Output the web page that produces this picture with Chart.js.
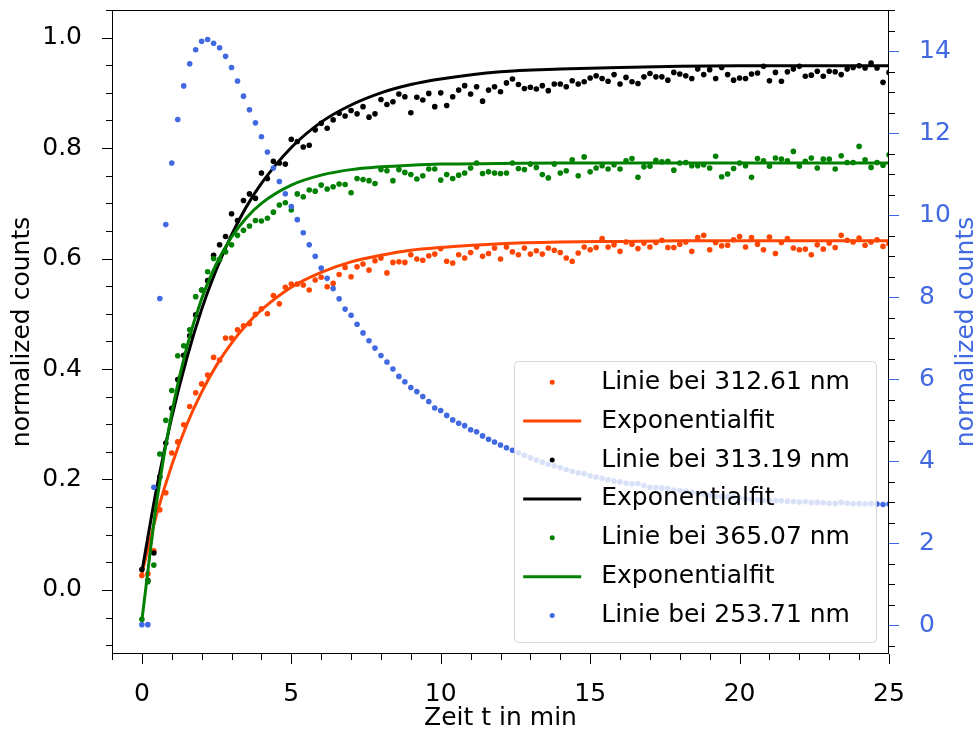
<!DOCTYPE html>
<html>
<head>
<meta charset="utf-8">
<title>Linienintensitäten</title>
<script src="https://cdn.jsdelivr.net/npm/chart.js@4.4.0/dist/chart.umd.min.js"></script>
<style>
  html, body { margin: 0; padding: 0; background: #fff; }
  #chart { display: block; }
</style>
</head>
<body>
<canvas id="chart" width="979" height="736"></canvas>
<script>
// Messzeitpunkte in min (alle 0.2 min)
const timeMin = [
  0, 0.2, 0.4, 0.6, 0.8, 1, 1.2, 1.4, 1.6, 1.8,
  2, 2.2, 2.4, 2.6, 2.8, 3, 3.2, 3.4, 3.6, 3.8,
  4, 4.2, 4.4, 4.6, 4.8, 5, 5.2, 5.4, 5.6, 5.8,
  6, 6.2, 6.4, 6.6, 6.8, 7, 7.2, 7.4, 7.6, 7.8,
  8, 8.2, 8.4, 8.6, 8.8, 9, 9.2, 9.4, 9.6, 9.8,
  10, 10.2, 10.4, 10.6, 10.8, 11, 11.2, 11.4, 11.6, 11.8,
  12, 12.2, 12.4, 12.6, 12.8, 13, 13.2, 13.4, 13.6, 13.8,
  14, 14.2, 14.4, 14.6, 14.8, 15, 15.2, 15.4, 15.6, 15.8,
  16, 16.2, 16.4, 16.6, 16.8, 17, 17.2, 17.4, 17.6, 17.8,
  18, 18.2, 18.4, 18.6, 18.8, 19, 19.2, 19.4, 19.6, 19.8,
  20, 20.2, 20.4, 20.6, 20.8, 21, 21.2, 21.4, 21.6, 21.8,
  22, 22.2, 22.4, 22.6, 22.8, 23, 23.2, 23.4, 23.6, 23.8,
  24, 24.2, 24.4, 24.6, 24.8, 25
];

// Linie bei 312.61 nm (normiert)
const line312 = [
  0.026, 0.029, 0.071, 0.145, 0.176, 0.248, 0.268, 0.299, 0.332, 0.357,
  0.373, 0.389, 0.421, 0.416, 0.456, 0.456, 0.471, 0.478, 0.482, 0.499,
  0.509, 0.500, 0.533, 0.518, 0.548, 0.554, 0.554, 0.552, 0.543, 0.561,
  0.566, 0.549, 0.555, 0.571, 0.584, 0.567, 0.585, 0.590, 0.579, 0.596,
  0.601, 0.574, 0.593, 0.594, 0.593, 0.607, 0.599, 0.597, 0.605, 0.608,
  0.618, 0.595, 0.592, 0.607, 0.601, 0.611, 0.621, 0.604, 0.609, 0.619,
  0.599, 0.621, 0.612, 0.607, 0.619, 0.608, 0.614, 0.608, 0.619, 0.615,
  0.611, 0.601, 0.595, 0.610, 0.621, 0.616, 0.620, 0.636, 0.621, 0.625,
  0.613, 0.630, 0.626, 0.618, 0.628, 0.621, 0.629, 0.633, 0.620, 0.620,
  0.626, 0.630, 0.613, 0.638, 0.642, 0.616, 0.629, 0.623, 0.624, 0.634,
  0.640, 0.621, 0.638, 0.626, 0.616, 0.639, 0.609, 0.629, 0.636, 0.619,
  0.616, 0.617, 0.607, 0.625, 0.617, 0.628, 0.620, 0.642, 0.633, 0.630,
  0.637, 0.624, 0.630, 0.634, 0.622, 0.627
];

// Linie bei 313.19 nm (normiert)
const line313 = [
  0.037, 0.017, 0.067, 0.205, 0.266, 0.329, 0.381, 0.425, 0.460, 0.498,
  0.543, 0.560, 0.606, 0.625, 0.640, 0.681, 0.669, 0.705, 0.717, 0.709,
  0.755, 0.745, 0.776, 0.773, 0.771, 0.816, 0.812, 0.802, 0.805, 0.833,
  0.845, 0.836, 0.851, 0.863, 0.858, 0.868, 0.862, 0.875, 0.856, 0.862,
  0.888, 0.879, 0.884, 0.898, 0.893, 0.864, 0.892, 0.887, 0.899, 0.875,
  0.900, 0.877, 0.893, 0.905, 0.913, 0.898, 0.911, 0.885, 0.905, 0.911,
  0.902, 0.918, 0.925, 0.915, 0.908, 0.910, 0.907, 0.913, 0.904, 0.916,
  0.916, 0.911, 0.922, 0.916, 0.920, 0.927, 0.931, 0.926, 0.921, 0.933,
  0.916, 0.928, 0.920, 0.917, 0.929, 0.935, 0.929, 0.929, 0.923, 0.937,
  0.934, 0.931, 0.926, 0.943, 0.933, 0.942, 0.926, 0.946, 0.933, 0.923,
  0.927, 0.926, 0.934, 0.936, 0.948, 0.922, 0.937, 0.921, 0.938, 0.943,
  0.948, 0.930, 0.932, 0.939, 0.930, 0.939, 0.938, 0.933, 0.943, 0.946,
  0.949, 0.945, 0.954, 0.945, 0.919, 0.937
];

// Linie bei 365.07 nm (normiert)
const line365 = [
  -0.053, 0.015, 0.045, 0.246, 0.307, 0.361, 0.424, 0.442, 0.471, 0.531,
  0.543, 0.576, 0.600, 0.598, 0.612, 0.625, 0.642, 0.651, 0.659, 0.669,
  0.668, 0.673, 0.684, 0.697, 0.701, 0.688, 0.717, 0.712, 0.724, 0.722,
  0.733, 0.726, 0.730, 0.735, 0.734, 0.719, 0.745, 0.743, 0.741, 0.736,
  0.761, 0.759, 0.741, 0.761, 0.756, 0.752, 0.744, 0.750, 0.762, 0.762,
  0.742, 0.752, 0.745, 0.751, 0.755, 0.764, 0.773, 0.754, 0.757, 0.755,
  0.754, 0.755, 0.773, 0.763, 0.761, 0.771, 0.765, 0.752, 0.746, 0.771,
  0.755, 0.759, 0.779, 0.750, 0.784, 0.757, 0.764, 0.768, 0.762, 0.770,
  0.762, 0.777, 0.781, 0.747, 0.766, 0.767, 0.778, 0.775, 0.776, 0.760,
  0.773, 0.774, 0.768, 0.768, 0.770, 0.764, 0.785, 0.748, 0.753, 0.763,
  0.773, 0.768, 0.747, 0.781, 0.777, 0.767, 0.782, 0.780, 0.777, 0.794,
  0.767, 0.776, 0.782, 0.764, 0.780, 0.780, 0.762, 0.786, 0.774, 0.774,
  0.803, 0.779, 0.765, 0.774, 0.769, 0.788
];

// Linie bei 253.71 nm (rechte Achse)
const line253 = [
  0.02, 0.02, 3.37, 7.97, 9.77, 11.27, 12.33, 13.15, 13.69, 14.03,
  14.24, 14.28, 14.19, 14.08, 13.87, 13.60, 13.27, 12.90, 12.57, 12.25,
  11.91, 11.54, 11.15, 10.82, 10.52, 10.21, 9.89, 9.57, 9.28, 9.00,
  8.71, 8.46, 8.21, 7.96, 7.71, 7.56, 7.34, 7.13, 6.94, 6.76,
  6.58, 6.42, 6.25, 6.07, 5.94, 5.80, 5.70, 5.58, 5.46, 5.30,
  5.24, 5.12, 5.01, 4.93, 4.87, 4.77, 4.72, 4.62, 4.54, 4.47,
  4.40, 4.33, 4.27, 4.21, 4.15, 4.09, 4.03, 3.98, 3.93, 3.89,
  3.85, 3.80, 3.76, 3.72, 3.70, 3.65, 3.62, 3.59, 3.55, 3.52,
  3.50, 3.47, 3.45, 3.46, 3.41, 3.37, 3.36, 3.35, 3.34, 3.30,
  3.29, 3.27, 3.24, 3.22, 3.20, 3.17, 3.15, 3.14, 3.14, 3.13,
  3.11, 3.09, 3.07, 3.06, 3.05, 3.05, 3.04, 3.04, 3.03, 3.02,
  3.01, 3.02, 3.00, 3.00, 2.99, 2.98, 2.97, 3.00, 2.98, 2.97,
  2.97, 2.96, 2.97, 2.96, 2.95, 2.96
];

// Exponentialfits, Stuetzstellen
const fitTime = [0, 0.5, 1, 1.5, 2, 2.5, 3, 3.5, 4, 5, 6, 7, 8, 9, 10, 12, 14, 16, 18, 20, 22, 25];
const fit312 = [0.030, 0.138, 0.226, 0.299, 0.358, 0.407, 0.447, 0.480, 0.507, 0.548, 0.575, 0.594, 0.606, 0.615, 0.620, 0.627, 0.630, 0.631, 0.632, 0.632, 0.632, 0.632];
const fit313 = [0.033, 0.186, 0.313, 0.419, 0.508, 0.581, 0.643, 0.694, 0.736, 0.801, 0.847, 0.878, 0.900, 0.915, 0.925, 0.938, 0.943, 0.946, 0.948, 0.949, 0.949, 0.949];
const fit365 = [-0.055, 0.161, 0.321, 0.439, 0.527, 0.591, 0.639, 0.674, 0.700, 0.733, 0.751, 0.761, 0.766, 0.769, 0.771, 0.772, 0.773, 0.773, 0.773, 0.773, 0.773, 0.773];

// Achsen
const xTicks = [0, 5, 10, 15, 20, 25];
const yTicks = [0, 0.2, 0.4, 0.6, 0.8, 1.0];
const y2Ticks = [0, 2, 4, 6, 8, 10, 12, 14];
const X_RANGE = [-1, 25];
const Y_RANGE = [-0.116, 1.05];
const Y2_RANGE = [-0.695, 15.0];

const FONT = "'DejaVu Sans', sans-serif";
const FONT_SIZE = 25;
const BLUE = 'royalblue';

Chart.defaults.font.family = FONT;
Chart.defaults.font.size = FONT_SIZE;
Chart.defaults.color = '#000';

const pts = (xs, ys) => ys.map((y, i) => ({ x: xs[i], y }));

function dotSet(label, color, values, order, axis) {
  return {
    label,
    data: pts(timeMin, values),
    backgroundColor: color,
    borderColor: color,
    pointRadius: 2.8,
    pointHoverRadius: 2.8,
    pointBorderWidth: 0,
    showLine: false,
    order,
    yAxisID: axis || 'y'
  };
}

function fitSet(color, values, order) {
  return {
    label: 'Exponentialfit',
    data: pts(fitTime, values),
    borderColor: color,
    backgroundColor: color,
    borderWidth: 3,
    pointRadius: 0,
    pointHoverRadius: 0,
    showLine: true,
    cubicInterpolationMode: 'monotone',
    order,
    yAxisID: 'y'
  };
}

// feste Achsenbreiten, keine automatische Randpolsterung
const fixWidth = w => s => { s.width = w; s.paddingTop = 0; s.paddingBottom = 0; };
const fixHeight = h => s => { s.height = h; s.paddingLeft = 0; s.paddingRight = 0; };

// Rahmen, Haupt- und Nebenstriche, rechte Achsenbeschriftung
const frameTicks = {
  id: 'frameTicks',
  afterDraw(chart) {
    const { ctx, chartArea: a, scales } = chart;
    const MAJOR = 10, MINOR = 6;
    ctx.save();
    ctx.lineWidth = 1;

    const hTick = (v, len, color) => {
      const px = Math.round(scales.x.getPixelForValue(v)) + 0.5;
      ctx.strokeStyle = color;
      ctx.beginPath();
      ctx.moveTo(px, a.bottom);
      ctx.lineTo(px, a.bottom + len);
      ctx.stroke();
    };
    const vTick = (scale, v, len, color, side) => {
      const py = Math.round(scale.getPixelForValue(v)) + 0.5;
      const x0 = side === 'left' ? a.left : a.right;
      ctx.strokeStyle = color;
      ctx.beginPath();
      ctx.moveTo(x0, py);
      ctx.lineTo(side === 'left' ? x0 - len : x0 + len, py);
      ctx.stroke();
    };

    for (let v = X_RANGE[0]; v <= X_RANGE[1]; v++) {
      if (v % 5 !== 0) hTick(v, MINOR, '#000');
    }
    xTicks.forEach(v => hTick(v, MAJOR, '#000'));

    for (let k = -2; k <= 21; k++) {
      if (k % 4 !== 0) vTick(scales.y, k * 0.05, MINOR, '#000', 'left');
    }
    yTicks.forEach(v => vTick(scales.y, v, MAJOR, '#000', 'left'));

    for (let k = -1; k <= 30; k++) {
      if (k % 4 !== 0) vTick(scales.y2, k * 0.5, MINOR, '#000', 'right');
    }
    y2Ticks.forEach(v => vTick(scales.y2, v, MAJOR, BLUE, 'right'));

    ctx.strokeStyle = '#000';
    ctx.strokeRect(Math.round(a.left) + 0.5, Math.round(a.top) + 0.5,
      Math.round(a.right - a.left) - 1, Math.round(a.bottom - a.top) - 1);

    // rechte y-Achse: Text von unten nach oben
    ctx.translate(a.right + 77, (a.top + a.bottom) / 2);
    ctx.rotate(-Math.PI / 2);
    ctx.fillStyle = BLUE;
    ctx.font = FONT_SIZE + 'px ' + FONT;
    ctx.textAlign = 'center';
    ctx.textBaseline = 'middle';
    ctx.fillText('normalized counts', 0, 0);
    ctx.restore();
  }
};

// Legende im Plotbereich, halbtransparent
const boxLegend = {
  id: 'boxLegend',
  afterDatasetsDraw(chart) {
    const { ctx, chartArea: a } = chart;
    const sets = chart.data.datasets;
    const w = 362, h = 281, rowH = 38.9;
    const x0 = Math.round(a.right - 13 - w) + 0.5;
    const y0 = Math.round(a.bottom - 12 - h) + 0.5;
    ctx.save();
    ctx.beginPath();
    if (ctx.roundRect) ctx.roundRect(x0, y0, w, h, 4);
    else ctx.rect(x0, y0, w, h);
    ctx.fillStyle = 'rgba(255,255,255,0.8)';
    ctx.fill();
    ctx.strokeStyle = 'rgba(204,204,204,0.8)';
    ctx.lineWidth = 1;
    ctx.stroke();

    ctx.font = FONT_SIZE + 'px ' + FONT;
    ctx.textBaseline = 'middle';
    ctx.textAlign = 'left';
    sets.forEach((ds, k) => {
      const cy = y0 + 20.7 + k * rowH;
      if (ds.showLine) {
        ctx.strokeStyle = ds.borderColor;
        ctx.lineWidth = 3;
        ctx.beginPath();
        ctx.moveTo(x0 + 8.7, cy);
        ctx.lineTo(x0 + 66.7, cy);
        ctx.stroke();
      } else {
        ctx.fillStyle = ds.backgroundColor;
        ctx.beginPath();
        ctx.arc(x0 + 37.7, cy, 2.5, 0, Math.PI * 2);
        ctx.fill();
      }
      ctx.fillStyle = '#000';
      ctx.fillText(ds.label, x0 + 86.7, cy);
    });
    ctx.restore();
  }
};

const ctx = document.getElementById('chart').getContext('2d');

new Chart(ctx, {
  type: 'scatter',
  data: {
    datasets: [
      dotSet('Linie bei 312.61 nm', 'orangered', line312, 6),
      fitSet('orangered', fit312, 5),
      dotSet('Linie bei 313.19 nm', '#000', line313, 4),
      fitSet('#000', fit313, 3),
      dotSet('Linie bei 365.07 nm', 'green', line365, 2),
      fitSet('green', fit365, 1),
      dotSet('Linie bei 253.71 nm', BLUE, line253, 0, 'y2')
    ]
  },
  options: {
    responsive: false,
    animation: false,
    devicePixelRatio: 1,
    layout: { autoPadding: false, padding: { top: 10, left: 0, right: 0, bottom: 0 } },
    plugins: {
      legend: { display: false },
      tooltip: { enabled: false }
    },
    scales: {
      x: {
        type: 'linear',
        min: X_RANGE[0],
        max: X_RANGE[1],
        grid: { display: false },
        border: { display: false },
        afterBuildTicks: s => { s.ticks = xTicks.map(value => ({ value })); },
        afterFit: fixHeight(82),
        ticks: { padding: 17, autoSkip: false, maxRotation: 0, color: '#000', callback: v => String(v) },
        title: { display: true, text: 'Zeit t in min', color: '#000', padding: { top: 0, bottom: 3 } }
      },
      y: {
        position: 'left',
        min: Y_RANGE[0],
        max: Y_RANGE[1],
        grid: { display: false },
        border: { display: false },
        afterBuildTicks: s => { s.ticks = yTicks.map(value => ({ value })); },
        afterFit: fixWidth(112),
        ticks: { padding: 22, autoSkip: false, color: '#000', callback: v => v.toFixed(1) },
        title: { display: true, text: 'normalized counts', color: '#000', padding: { top: 7, bottom: 0 } }
      },
      y2: {
        position: 'right',
        min: Y2_RANGE[0],
        max: Y2_RANGE[1],
        grid: { display: false },
        border: { display: false },
        afterBuildTicks: s => { s.ticks = y2Ticks.map(value => ({ value })); },
        afterFit: fixWidth(90),
        ticks: { padding: 22, autoSkip: false, color: BLUE, callback: v => String(v) }
      }
    }
  },
  plugins: [boxLegend, frameTicks]
});
</script>
</body>
</html>
